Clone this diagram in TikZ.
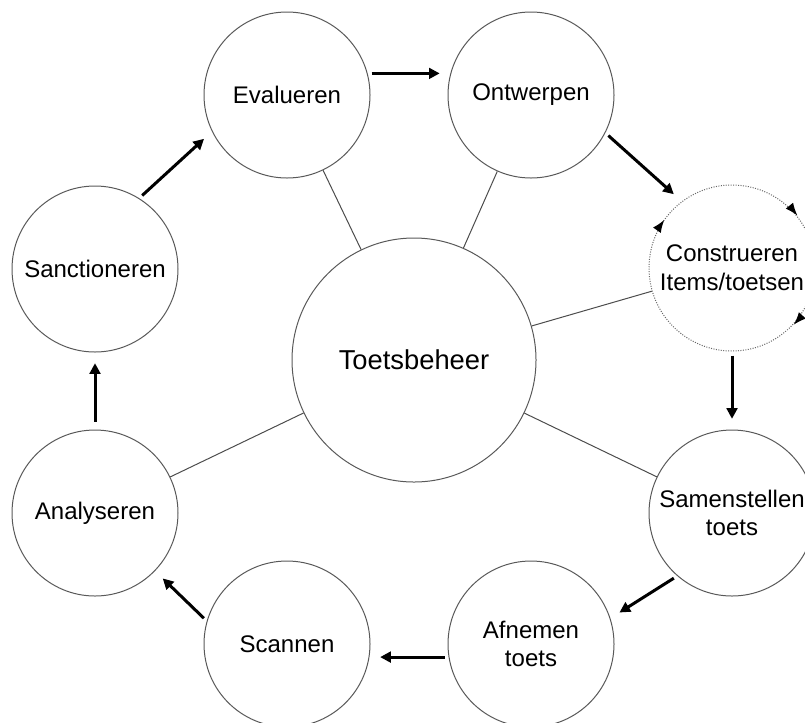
\documentclass[tikz,border=0pt]{standalone}
\usepackage{fontspec}
\setmainfont{Liberation Sans}
\usetikzlibrary{arrows.meta,decorations.markings}

\begin{document}
\begin{tikzpicture}[x=0.75pt,y=0.75pt,yscale=-1,xscale=1,
  stage/.style={circle,draw=black!65,line width=0.75pt,minimum size=124.5pt,inner sep=0pt,align=center,font=\fontsize{18}{21.5}\selectfont},
  hub/.style={stage,minimum size=183pt,font=\fontsize{20.5}{24}\selectfont},
  spoke/.style={draw=black!70,line width=0.75pt},
  flow/.style={line width=2.25pt,-{Triangle[length=8pt,width=8pt]},shorten <=3pt,shorten >=8pt}]
\useasboundingbox (0,0) rectangle (805,722);

% Stage circles
\node[stage] (evalueren) at (287,95) {Evalueren};
\node[stage] (ontwerpen) at (531,95) {Ontwerpen};
\node[stage,draw=black!60,dash pattern=on 0.75pt off 1.1pt] (construeren) at (732,268) {Construeren\\Items/toetsen};
\node[stage] (samenstellen) at (732,513) {Samenstellen\\toets};
\node[stage] (afnemen) at (531,644) {Afnemen\\toets};
\node[stage] (scannen) at (287,644) {Scannen};
\node[stage] (analyseren) at (95,513) {Analyseren};
\node[stage] (sanctioneren) at (95,269) {Sanctioneren};
% Centre
\node[hub] (toetsbeheer) at (414,360) {Toetsbeheer};

% Spokes
\draw[spoke] (toetsbeheer) -- (evalueren);
\draw[spoke] (toetsbeheer) -- (ontwerpen);
\draw[spoke] (toetsbeheer) -- (construeren);
\draw[spoke] (toetsbeheer) -- (samenstellen);
\draw[spoke] (toetsbeheer) -- (analyseren);

% Cycle arrows
\draw[flow] (sanctioneren.58) -- (evalueren.206);
\draw[flow] (evalueren.15) -- (ontwerpen.165);
\draw[flow] (ontwerpen.-27) -- (construeren.127);
\draw[flow] (construeren.south) -- (samenstellen.north);
\draw[flow] (samenstellen.229) -- (afnemen.18);
\draw[flow] (afnemen.189) -- (scannen.-9);
\draw[flow] (scannen.164) -- (analyseren.-44);
\draw[flow,shorten <=6pt] (analyseren.north) -- (sanctioneren.south);

% small arrows round Construeren
\path[line width=0.75pt,postaction={decorate},decoration={markings,
  mark=at position 0.098 with {\arrow[scale=1.5]{Latex}},
  mark=at position 0.392 with {\arrow[scale=1.5]{Latex}},
  mark=at position 0.619 with {\arrow[scale=1.5]{Latex}}}]
  (construeren.center) ++(-83,0) arc[start angle=180,end angle=540,radius=62.6pt];

\end{tikzpicture}
\end{document}
